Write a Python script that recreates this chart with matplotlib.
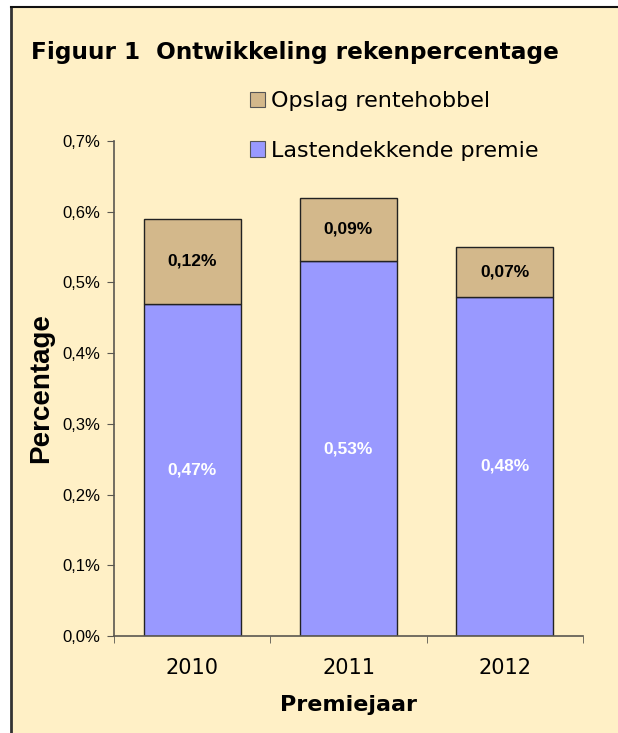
import matplotlib.pyplot as plt
import matplotlib.patches as mpatches
from matplotlib.lines import Line2D

years = ["2010", "2011", "2012"]
lastendekkend = [0.47, 0.53, 0.48]
opslag = [0.12, 0.09, 0.07]
yticks = [0.0, 0.1, 0.2, 0.3, 0.4, 0.5, 0.6, 0.7]

bg = "#fff0c6"
blue = "#9999ff"
tan = "#d3b88b"
axcol = "#5a5750"


def pct(v):
    return ("%.2f%%" % v).replace(".", ",")


def main():
    fig = plt.figure(figsize=(6.18, 7.33), dpi=100)
    fig.patch.set_facecolor("white")

    # cream panel with the border on top and left
    fig.patches.append(mpatches.Rectangle((11 / 618, 0), 1, (733 - 7) / 733,
                                          transform=fig.transFigure, facecolor=bg,
                                          edgecolor="none", zorder=-10))
    fig.lines.append(Line2D([11 / 618, 11 / 618], [0, (733 - 7) / 733],
                            transform=fig.transFigure, color="#333333", lw=2, zorder=-5))
    fig.lines.append(Line2D([11 / 618, 1], [(733 - 7) / 733, (733 - 7) / 733],
                            transform=fig.transFigure, color="#111111", lw=1.5, zorder=-5))

    ax = fig.add_axes([114 / 618, 97 / 733, 469 / 618, 495 / 733])
    ax.set_facecolor("none")
    x = range(len(years))
    ax.bar(x, lastendekkend, width=0.62, color=blue, edgecolor="#222222", linewidth=1)
    ax.bar(x, opslag, bottom=lastendekkend, width=0.62, color=tan,
           edgecolor="#222222", linewidth=1)

    for i in x:
        ax.text(i, lastendekkend[i] / 2, pct(lastendekkend[i]), color="white",
                ha="center", va="center", fontsize=12.5, fontweight="bold",
                family="Liberation Sans")
        ax.text(i, lastendekkend[i] + opslag[i] / 2, pct(opslag[i]), color="black",
                ha="center", va="center", fontsize=12.5, fontweight="bold",
                family="Liberation Sans")

    ax.set_xlim(-0.5, 2.5)
    ax.set_ylim(0, 0.7)
    ax.set_yticks(yticks)
    ax.set_yticklabels([("%.1f%%" % t).replace(".", ",") for t in yticks],
                       fontsize=12, family="Liberation Sans")
    ax.set_xticks(list(x))
    ax.set_xticklabels(years, fontsize=15)
    ax.set_xticks([-0.5, 0.5, 1.5, 2.5], minor=True)
    ax.tick_params(axis="x", which="major", length=0, pad=16)
    ax.tick_params(axis="x", which="minor", length=5, direction="out", color=axcol)
    ax.tick_params(axis="y", length=5, direction="out", color=axcol, pad=5)
    for s in ["top", "right"]:
        ax.spines[s].set_visible(False)
    for s in ["left", "bottom"]:
        ax.spines[s].set_color(axcol)
        ax.spines[s].set_linewidth(1.2)

    ax.set_xlabel("Premiejaar", fontsize=16, fontweight="bold", labelpad=12)
    ax.set_ylabel("Percentage", fontsize=20, fontweight="bold",
                  family="Liberation Sans", labelpad=6)

    fig.text(31 / 618, 1 - 53 / 733, "Figuur 1  Ontwikkeling rekenpercentage",
             fontsize=16.7, fontweight="bold", va="center", ha="left")

    handles = [mpatches.Patch(facecolor=tan, edgecolor="#555555", linewidth=0.8),
               mpatches.Patch(facecolor=blue, edgecolor="#555555", linewidth=0.8)]
    fig.legend(handles, ["Opslag rentehobbel", "Lastendekkende premie"],
               loc="upper left", bbox_to_anchor=(250 / 618, 1 - 91 / 733),
               frameon=False, fontsize=16, labelspacing=1.34,
               handlelength=0.68, handleheight=0.68, handletextpad=0.27,
               borderaxespad=0, borderpad=0)

    fig.savefig("out.png", dpi=100, facecolor="white")


if __name__ == "__main__":
    main()
